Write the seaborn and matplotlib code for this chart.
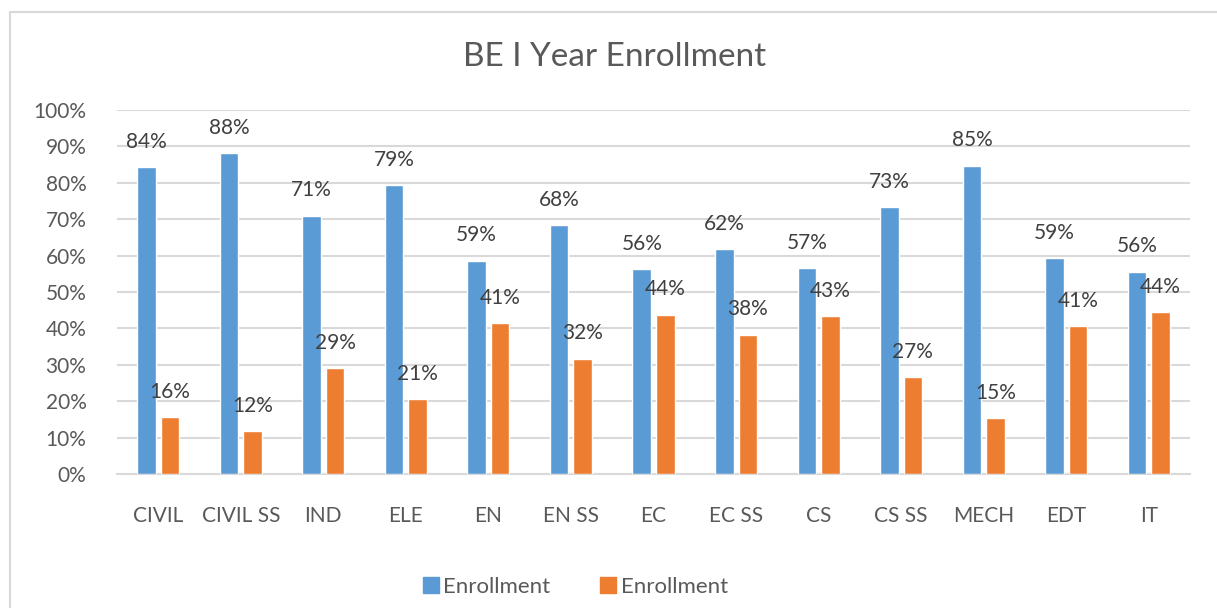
import matplotlib
matplotlib.use("Agg")
import matplotlib.pyplot as plt
import matplotlib.lines as mlines
import seaborn as sns
import pandas as pd
from matplotlib.ticker import FuncFormatter, MultipleLocator

categories = ["CIVIL", "CIVIL SS", "IND", "ELE", "EN", "EN SS", "EC", "EC SS",
              "CS", "CS SS", "MECH", "EDT", "IT"]
series_a = [84.4, 88.2, 71.0, 79.4, 58.6, 68.3, 56.2, 61.7, 56.6, 73.4, 84.7, 59.4, 55.6]
series_b = [15.6, 11.8, 29.0, 20.6, 41.4, 31.7, 43.8, 38.3, 43.4, 26.6, 15.3, 40.6, 44.4]
series_names = ["Enrollment", "Enrollment "]
title = "BE I Year Enrollment"

df = pd.DataFrame({
    "cat": categories * 2,
    "val": series_a + series_b,
    "series": [series_names[0]] * len(categories) + [series_names[1]] * len(categories),
})

sns.set_theme(style="white")
plt.rcParams["font.family"] = ["Lato", "DejaVu Sans"]

fig = plt.figure(figsize=(12.17, 6.08), dpi=100)
ax = fig.add_axes([117 / 1217, 1 - 474 / 608, (1190 - 117) / 1217, (474 - 110) / 608])

palette = {series_names[0]: "#5B9BD5", series_names[1]: "#ED7D31"}
sns.barplot(data=df, x="cat", y="val", hue="series", palette=palette, ax=ax,
            width=0.57, gap=0.21, saturation=1, legend=False, zorder=3)

ax.set_ylim(0, 100)
ax.yaxis.set_major_locator(MultipleLocator(10))
ax.yaxis.set_major_formatter(FuncFormatter(lambda v, p: f"{int(round(v))}%"))
ax.set_xlim(-0.5, len(categories) - 0.5)
ax.grid(axis="y", color="#D9D9D9", linewidth=1.5, zorder=0)
ax.set_axisbelow(True)
for s in ["left", "right", "top"]:
    ax.spines[s].set_visible(False)
ax.spines["bottom"].set_color("#D9D9D9")
ax.spines["bottom"].set_linewidth(1.5)
ax.set_xlabel("")
ax.set_ylabel("")
ax.tick_params(axis="both", length=0, labelsize=15, labelcolor="#595959")
ax.tick_params(axis="y", pad=22)
ax.tick_params(axis="x", pad=23)

for container in ax.containers:
    labels = [f"{round(b.get_height()):.0f}%" for b in container]
    ax.bar_label(container, labels=labels, padding=11, fontsize=15, color="#404040")

fig.text(615 / 1217, 1 - 57 / 608, title, ha="center", va="center",
         fontsize=24, color="#595959")

handles = [mlines.Line2D([], [], marker="s", linestyle="none", markersize=11,
                         markerfacecolor=palette[n], markeredgecolor=palette[n])
           for n in series_names]
fig.legend(handles, ["Enrollment", "Enrollment"], loc="center",
           bbox_to_anchor=(575 / 1217, 1 - 587 / 608), ncol=2, frameon=False,
           fontsize=16, labelcolor="#595959", handletextpad=0.15, columnspacing=2.2,
           handlelength=0.8)

# chart border
fig.add_artist(mlines.Line2D([10 / 1217, 10 / 1217], [0, 1 - 12 / 608],
                             transform=fig.transFigure, color="#D9D9D9", linewidth=1.5))
fig.add_artist(mlines.Line2D([10 / 1217, 1], [1 - 12 / 608, 1 - 12 / 608],
                             transform=fig.transFigure, color="#D9D9D9", linewidth=1.5))

fig.savefig("out.png", dpi=100)
